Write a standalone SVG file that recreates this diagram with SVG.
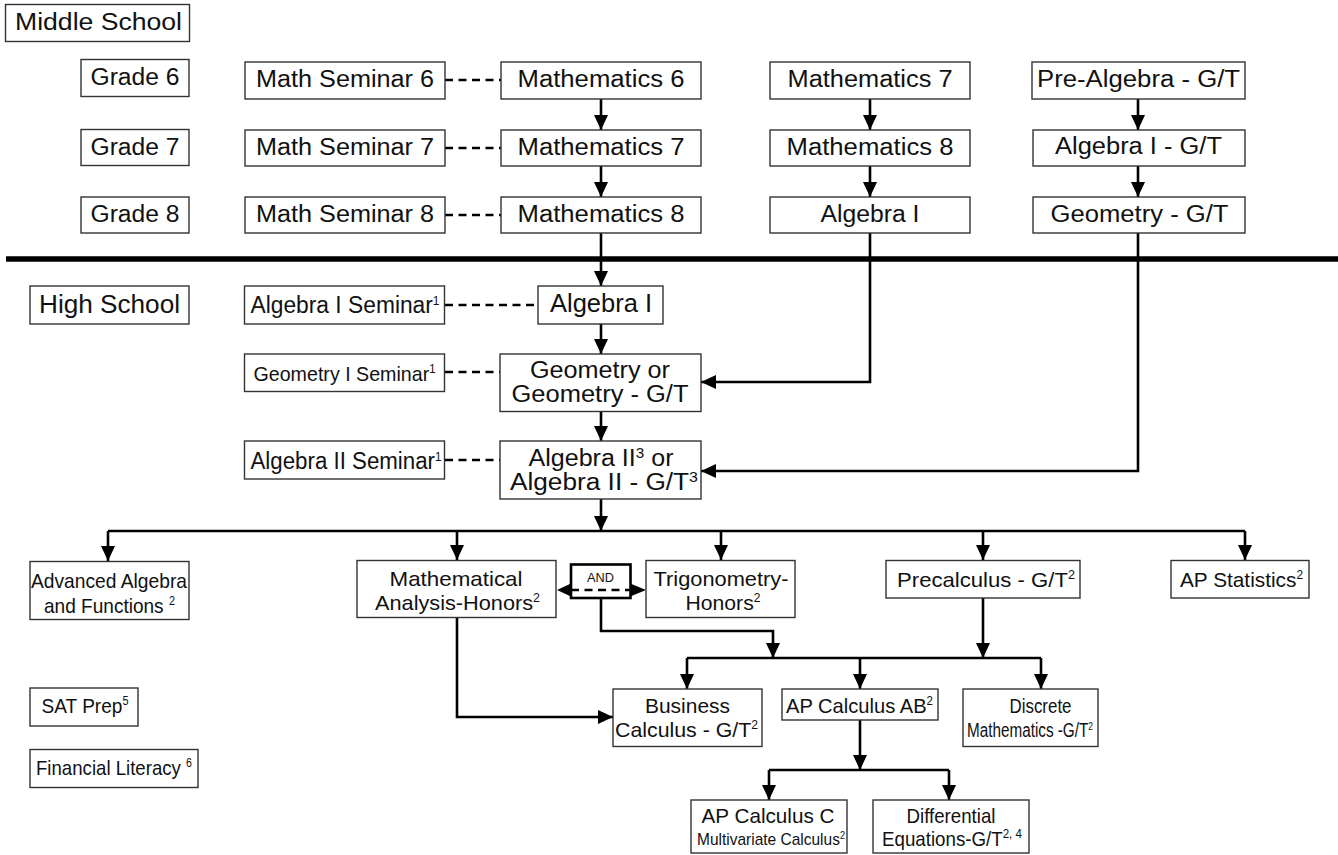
<svg xmlns="http://www.w3.org/2000/svg" width="1338" height="855" viewBox="0 0 1338 855">
<defs>
<style>
.b{fill:#fff;stroke:#333;stroke-width:1.4}
.t{font-family:"Liberation Sans",Arial,Helvetica,sans-serif;font-size:23px;fill:#111;text-anchor:middle}
.n{font-size:21px}
.s{font-size:13px}
.c{stroke:#000;stroke-width:2.6;fill:none}
.a{marker-end:url(#ah)}
.d{stroke-dasharray:8 5.5}
</style>
<marker id="ah" markerUnits="userSpaceOnUse" markerWidth="15" markerHeight="14" refX="15" refY="7" orient="auto"><path d="M0,0 L15,7 L0,14 z" fill="#000"/></marker>
</defs>
<rect width="1338" height="855" fill="#fff"/>

<g id="connectors">
<line x1="6" y1="259" x2="1338" y2="259" stroke="#000" stroke-width="5.5"/>
<path class="c d" d="M445,80 H501 M445,148 H501 M445,215 H501 M445,305 H538 M445,372 H500 M445,460 H500"/>
<path class="c a" d="M601,99 V130"/>
<path class="c a" d="M601,166 V197"/>
<path class="c a" d="M870,99 V130"/>
<path class="c a" d="M870,166 V197"/>
<path class="c a" d="M1138,99 V130"/>
<path class="c a" d="M1138,166 V197"/>
<path class="c a" d="M601,233 V286"/>
<path class="c a" d="M870,233 V382 H701"/>
<path class="c a" d="M1138,233 V471 H701"/>
<path class="c a" d="M601,324 V354"/>
<path class="c a" d="M601,412 V441"/>
<path class="c a" d="M601,499 V531"/>
<path class="c" d="M108,531 H1245"/>
<path class="c a" d="M108,531 V561"/>
<path class="c a" d="M457,531 V560"/>
<path class="c a" d="M721,531 V560"/>
<path class="c a" d="M983,531 V560"/>
<path class="c a" d="M1245,531 V560"/>
<path d="M572,583 L557,590 L572,597 z M629,583 L646,590 L629,597 z" fill="#000"/>
<path class="c a" d="M601,590 V631 H773 V658"/>
<path class="c a" d="M983,598 V658"/>
<path class="c" d="M687,658 H1041"/>
<path class="c a" d="M687,658 V689"/>
<path class="c a" d="M860,658 V689"/>
<path class="c a" d="M1041,658 V689"/>
<path class="c a" d="M457,618 V717 H613"/>
<path class="c a" d="M860,720 V770"/>
<path class="c" d="M769,770 H949"/>
<path class="c a" d="M769,770 V800"/>
<path class="c a" d="M949,770 V800"/>
</g>

<g id="middle-school"><rect class="b" x="5.5" y="4.5" width="184" height="37"/><text class="t" x="98.5" y="30" textLength="167" lengthAdjust="spacingAndGlyphs">Middle School</text></g>
<g id="grade6"><rect class="b" x="81" y="59.5" width="108" height="37"/><text class="t" x="135" y="85" textLength="89" lengthAdjust="spacingAndGlyphs">Grade 6</text></g>
<g id="grade7"><rect class="b" x="81" y="129.5" width="108" height="36"/><text class="t" x="135" y="155" textLength="89" lengthAdjust="spacingAndGlyphs">Grade 7</text></g>
<g id="grade8"><rect class="b" x="81" y="197" width="108" height="36"/><text class="t" x="135" y="222" textLength="89" lengthAdjust="spacingAndGlyphs">Grade 8</text></g>

<g id="seminar6"><rect class="b" x="245" y="62" width="200" height="37"/><text class="t" x="345" y="87" textLength="178" lengthAdjust="spacingAndGlyphs">Math Seminar 6</text></g>
<g id="seminar7"><rect class="b" x="245" y="130" width="200" height="36"/><text class="t" x="345" y="155" textLength="178" lengthAdjust="spacingAndGlyphs">Math Seminar 7</text></g>
<g id="seminar8"><rect class="b" x="245" y="197" width="200" height="36"/><text class="t" x="345" y="222" textLength="178" lengthAdjust="spacingAndGlyphs">Math Seminar 8</text></g>

<g id="math6"><rect class="b" x="501" y="62" width="200" height="37"/><text class="t" x="601" y="87" textLength="167" lengthAdjust="spacingAndGlyphs">Mathematics 6</text></g>
<g id="math7"><rect class="b" x="501" y="130" width="200" height="36"/><text class="t" x="601" y="155" textLength="167" lengthAdjust="spacingAndGlyphs">Mathematics 7</text></g>
<g id="math8"><rect class="b" x="501" y="197" width="200" height="36"/><text class="t" x="601" y="222" textLength="167" lengthAdjust="spacingAndGlyphs">Mathematics 8</text></g>

<g id="math7b"><rect class="b" x="770" y="62" width="200" height="37"/><text class="t" x="870" y="87" textLength="165" lengthAdjust="spacingAndGlyphs">Mathematics 7</text></g>
<g id="math8b"><rect class="b" x="770" y="130" width="200" height="36"/><text class="t" x="870" y="155" textLength="167" lengthAdjust="spacingAndGlyphs">Mathematics 8</text></g>
<g id="algebra1-ms"><rect class="b" x="770" y="197" width="200" height="36"/><text class="t" x="870" y="222" textLength="99" lengthAdjust="spacingAndGlyphs">Algebra I</text></g>

<g id="prealgebra-gt"><rect class="b" x="1032" y="62" width="213" height="37"/><text class="t" x="1138.5" y="87" textLength="203" lengthAdjust="spacingAndGlyphs">Pre-Algebra - G/T</text></g>
<g id="algebra1-gt"><rect class="b" x="1033" y="130" width="212" height="36"/><text class="t" x="1138.5" y="154" textLength="167" lengthAdjust="spacingAndGlyphs">Algebra I - G/T</text></g>
<g id="geometry-gt"><rect class="b" x="1033" y="197" width="212" height="36"/><text class="t" x="1139.5" y="222" textLength="178" lengthAdjust="spacingAndGlyphs">Geometry - G/T</text></g>

<g id="high-school"><rect class="b" x="30" y="286" width="159" height="38"/><text class="t" x="109.5" y="313" textLength="141" lengthAdjust="spacingAndGlyphs" style="font-size:25px">High School</text></g>
<g id="alg1-seminar"><rect class="b" x="244.5" y="286" width="200" height="38"/><text class="t" x="345" y="313" textLength="189" lengthAdjust="spacingAndGlyphs">Algebra I Seminar<tspan dy="-8" font-size="12">1</tspan></text></g>
<g id="geo-seminar"><rect class="b" x="244.5" y="354" width="200" height="37.5"/><text class="t n" x="344.5" y="380.5" textLength="182" lengthAdjust="spacingAndGlyphs">Geometry I Seminar<tspan dy="-8" font-size="12">1</tspan></text></g>
<g id="alg2-seminar"><rect class="b" x="244.5" y="441" width="200" height="38"/><text class="t" x="346" y="469" textLength="191" lengthAdjust="spacingAndGlyphs">Algebra II Seminar<tspan dy="-8" font-size="12">1</tspan></text></g>

<g id="algebra1-hs"><rect class="b" x="538" y="286" width="125" height="38"/><text class="t" x="601" y="312" textLength="102" lengthAdjust="spacingAndGlyphs" style="font-size:25px">Algebra I</text></g>
<g id="geometry"><rect class="b" x="500" y="354" width="201" height="57.5"/><text class="t" x="600" y="378" textLength="140" lengthAdjust="spacingAndGlyphs">Geometry or</text><text class="t" x="600" y="401.5" textLength="177" lengthAdjust="spacingAndGlyphs">Geometry - G/T</text></g>
<g id="algebra2"><rect class="b" x="500" y="441" width="201" height="58"/><text class="t" x="601" y="466" textLength="145" lengthAdjust="spacingAndGlyphs">Algebra II<tspan dy="-8" font-size="14">3</tspan><tspan dy="8"> or</tspan></text><text class="t" x="604" y="489.5" textLength="188" lengthAdjust="spacingAndGlyphs">Algebra II - G/T<tspan dy="-8" font-size="14">3</tspan></text></g>

<g id="adv-algebra"><rect class="b" x="30" y="561.5" width="159" height="58"/><text class="t n" x="109" y="588" textLength="156" lengthAdjust="spacingAndGlyphs">Advanced Algebra</text><text class="t n" x="109.5" y="612.5" textLength="131" lengthAdjust="spacingAndGlyphs">and Functions <tspan dy="-8" font-size="12">2</tspan></text></g>
<g id="math-analysis"><rect class="b" x="357" y="560.5" width="199" height="57"/><text class="t n" x="456" y="586" textLength="133" lengthAdjust="spacingAndGlyphs">Mathematical</text><text class="t n" x="457.5" y="609.5" textLength="165" lengthAdjust="spacingAndGlyphs">Analysis-Honors<tspan dy="-8" font-size="12">2</tspan></text></g>
<g id="and"><rect x="571" y="564.5" width="59.5" height="33.5" fill="#fff" stroke="#000" stroke-width="2.6"/><text class="t s" x="600.5" y="581.5" textLength="27" lengthAdjust="spacingAndGlyphs">AND</text><path class="c d" d="M571,590 H630"/></g>
<g id="trig"><rect class="b" x="646" y="560.5" width="149" height="57"/><text class="t n" x="721" y="586" textLength="135" lengthAdjust="spacingAndGlyphs">Trigonometry-</text><text class="t n" x="723" y="609.5" textLength="75" lengthAdjust="spacingAndGlyphs">Honors<tspan dy="-8" font-size="12">2</tspan></text></g>
<g id="precalc"><rect class="b" x="886" y="560.5" width="194" height="37.5"/><text class="t n" x="986" y="587" textLength="178" lengthAdjust="spacingAndGlyphs">Precalculus - G/T<tspan dy="-8" font-size="12">2</tspan></text></g>
<g id="ap-stats"><rect class="b" x="1171" y="560.5" width="138" height="37.5"/><text class="t n" x="1241.5" y="587" textLength="123" lengthAdjust="spacingAndGlyphs">AP Statistics<tspan dy="-8" font-size="12">2</tspan></text></g>

<g id="sat-prep"><rect class="b" x="30" y="688" width="108" height="38"/><text class="t n" x="85" y="713" textLength="87" lengthAdjust="spacingAndGlyphs">SAT Prep<tspan dy="-8" font-size="12">5</tspan></text></g>
<g id="fin-lit"><rect class="b" x="30" y="749.5" width="168" height="38"/><text class="t n" x="114" y="775" textLength="156" lengthAdjust="spacingAndGlyphs">Financial Literacy <tspan dy="-8" font-size="12">6</tspan></text></g>

<g id="business-calc"><rect class="b" x="613" y="689" width="149" height="57.5"/><text class="t n" x="687.5" y="713" textLength="85" lengthAdjust="spacingAndGlyphs">Business</text><text class="t n" x="686.5" y="736.5" textLength="143" lengthAdjust="spacingAndGlyphs">Calculus - G/T<tspan dy="-8" font-size="12">2</tspan></text></g>
<g id="ap-calc-ab"><rect class="b" x="782" y="689" width="156" height="31"/><text class="t n" x="859.5" y="713" textLength="147" lengthAdjust="spacingAndGlyphs">AP Calculus AB<tspan dy="-8" font-size="12">2</tspan></text></g>
<g id="discrete"><rect class="b" x="963" y="689" width="135" height="57.5"/><text class="t n" x="1040.5" y="713" textLength="62" lengthAdjust="spacingAndGlyphs" style="font-size:20px">Discrete</text><text class="t n" x="1030" y="736.5" textLength="126" lengthAdjust="spacingAndGlyphs" style="font-size:20px">Mathematics -G/T<tspan dy="-7" font-size="11">2</tspan></text></g>

<g id="ap-calc-c"><rect class="b" x="691" y="800" width="156" height="53"/><text class="t n" x="768" y="823" textLength="133" lengthAdjust="spacingAndGlyphs">AP Calculus C</text><text class="t" x="771" y="845" textLength="148" lengthAdjust="spacingAndGlyphs" style="font-size:17px">Multivariate Calculus<tspan dy="-6" font-size="10">2</tspan></text></g>
<g id="diff-eq"><rect class="b" x="873" y="800" width="156" height="53"/><text class="t n" x="951" y="823" textLength="89" lengthAdjust="spacingAndGlyphs">Differential</text><text class="t n" x="952" y="846" textLength="140" lengthAdjust="spacingAndGlyphs">Equations-G/T<tspan dy="-8" font-size="13">2, 4</tspan></text></g>
</svg>
